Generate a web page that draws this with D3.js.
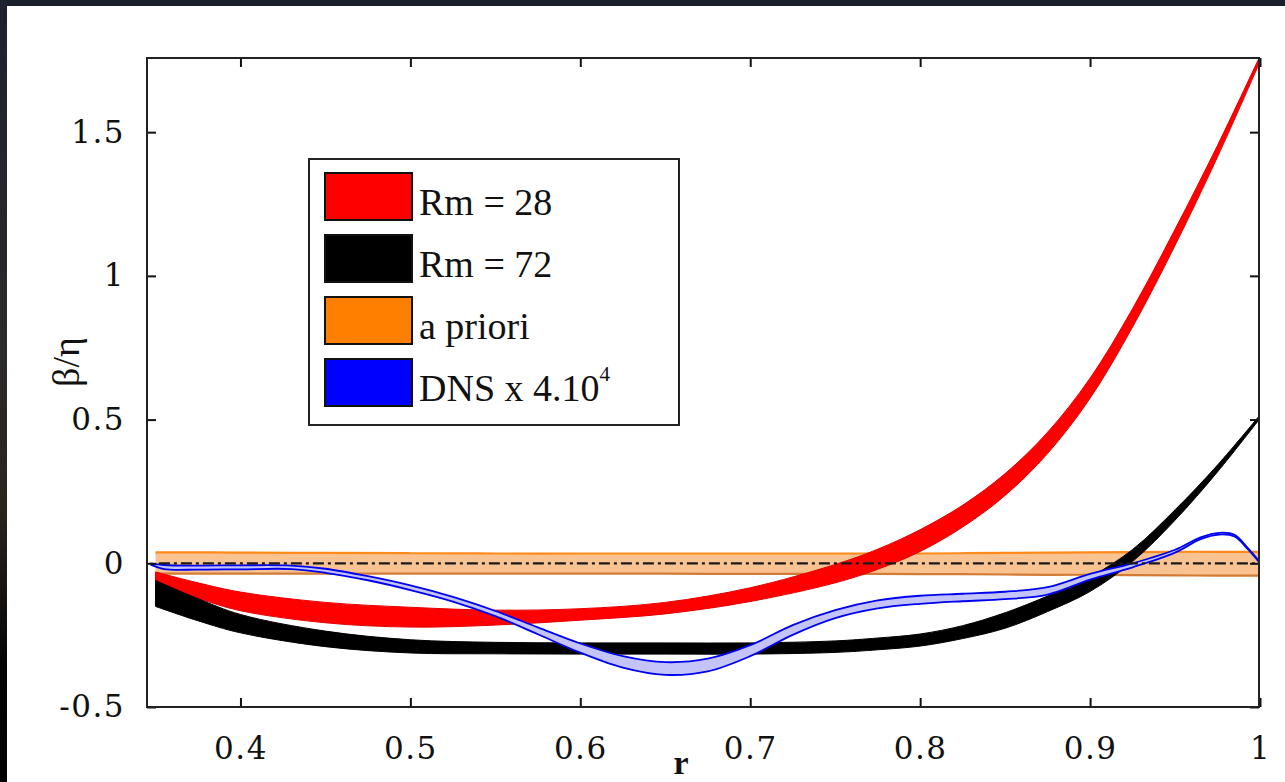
<!DOCTYPE html>
<html>
<head>
<meta charset="utf-8">
<script src="https://cdn.jsdelivr.net/npm/d3@7/dist/d3.min.js"></script>
<style>
  html, body { margin: 0; padding: 0; background: #ffffff; }
  svg { display: block; }
</style>
</head>
<body>
<svg id="chart" width="1285" height="782"></svg>
<script>
// ---------------- DATA ----------------
const rGrid = [0.35, 0.375, 0.4, 0.45, 0.5, 0.55, 0.6, 0.65, 0.7, 0.75, 0.775, 0.8, 0.825, 0.85, 0.875, 0.9, 0.925, 0.95, 0.975, 1.0];

const rm28Hi = [-0.03, -0.068, -0.1, -0.136, -0.153, -0.163, -0.158, -0.136, -0.085, -0.004, 0.049, 0.117, 0.202, 0.312, 0.456, 0.644, 0.886, 1.162, 1.454, 1.765];
const rm28Lo = [-0.07, -0.122, -0.165, -0.207, -0.222, -0.215, -0.198, -0.176, -0.133, -0.068, -0.021, 0.041, 0.126, 0.236, 0.382, 0.574, 0.822, 1.106, 1.414, 1.745];

const rm72Hi = [-0.06, -0.123, -0.178, -0.236, -0.266, -0.275, -0.277, -0.277, -0.277, -0.27, -0.26, -0.246, -0.217, -0.172, -0.114, -0.048, 0.048, 0.186, 0.342, 0.516];
const rm72Lo = [-0.15, -0.2, -0.242, -0.29, -0.312, -0.315, -0.316, -0.316, -0.316, -0.31, -0.301, -0.288, -0.262, -0.226, -0.168, -0.098, 0.006, 0.15, 0.318, 0.504];

const aprioriHi = [0.038, 0.038, 0.037, 0.036, 0.035, 0.034, 0.034, 0.034, 0.034, 0.034, 0.034, 0.034, 0.035, 0.036, 0.037, 0.038, 0.039, 0.04, 0.04, 0.04];
const aprioriLo = [-0.036, -0.036, -0.036, -0.036, -0.036, -0.036, -0.036, -0.036, -0.037, -0.037, -0.037, -0.038, -0.038, -0.039, -0.04, -0.04, -0.041, -0.042, -0.043, -0.043];

const rDNS = [0.347, 0.355, 0.375, 0.4, 0.43, 0.45, 0.475, 0.5, 0.525, 0.55, 0.575, 0.6, 0.625, 0.65, 0.675, 0.7, 0.725, 0.75, 0.775, 0.8, 0.825, 0.85, 0.875, 0.9, 0.925, 0.95, 0.965, 0.976, 0.985, 0.993, 1.0];
const dnsHi = [0.0, -0.006, -0.008, -0.007, -0.008, -0.019, -0.045, -0.077, -0.117, -0.166, -0.223, -0.279, -0.323, -0.344, -0.332, -0.285, -0.215, -0.163, -0.129, -0.113, -0.106, -0.099, -0.083, -0.037, 0.0, 0.047, 0.09, 0.106, 0.099, 0.052, 0.004];
const dnsLo = [-0.004, -0.02, -0.022, -0.021, -0.02, -0.033, -0.059, -0.093, -0.133, -0.184, -0.247, -0.311, -0.363, -0.388, -0.376, -0.323, -0.249, -0.191, -0.157, -0.141, -0.132, -0.125, -0.109, -0.057, -0.014, 0.037, 0.084, 0.1, 0.093, 0.048, 0.0];

const xTicks = [0.4, 0.5, 0.6, 0.7, 0.8, 0.9, 1.0];
const xTickLabels = ["0.4", "0.5", "0.6", "0.7", "0.8", "0.9", "1"];
const yTicks = [-0.5, 0, 0.5, 1, 1.5];
const yTickLabels = ["-0.5", "0", "0.5", "1", "1.5"];

const legendLabels = ["Rm = 28", "Rm = 72", "a priori", "DNS x 4.10"];
const legendColors = ["#ff0000", "#000000", "#ff8000", "#0000ff"];

// ---------------- LAYOUT ----------------
const svg = d3.select("#chart");
const W = 1285, H = 782;
const plot = { left: 147, top: 58, right: 1259, bottom: 707 };

// dark screenshot frame (top and left strips)
const defs = svg.append("defs");
const grad = defs.append("linearGradient").attr("id", "leftStrip")
  .attr("x1", 0).attr("y1", 0).attr("x2", 0).attr("y2", 1);
grad.append("stop").attr("offset", "0%").attr("stop-color", "#1d2130");
grad.append("stop").attr("offset", "45%").attr("stop-color", "#2c2a2a");
grad.append("stop").attr("offset", "65%").attr("stop-color", "#2a241e");
grad.append("stop").attr("offset", "85%").attr("stop-color", "#050505");
grad.append("stop").attr("offset", "100%").attr("stop-color", "#000000");
svg.append("rect").attr("x", 0).attr("y", 0).attr("width", W).attr("height", H).attr("fill", "#ffffff");
svg.append("rect").attr("x", 0).attr("y", 0).attr("width", W).attr("height", 6).attr("fill", "#1c202d");
svg.append("rect").attr("x", 0).attr("y", 0).attr("width", 7).attr("height", H).attr("fill", "url(#leftStrip)");

const x = d3.scaleLinear().domain([0.345, 1.0]).range([plot.left, plot.right + 1]);
const y = d3.scaleLinear().domain([-0.5, 1.758]).range([plot.bottom, plot.top]);

defs.append("clipPath").attr("id", "plotClip").append("rect")
  .attr("x", plot.left).attr("y", plot.top)
  .attr("width", plot.right - plot.left).attr("height", plot.bottom - plot.top);

const g = svg.append("g").attr("clip-path", "url(#plotClip)");

function band(rs, hi, lo) {
  return rs.map((r, i) => ({ r: r, hi: hi[i], lo: lo[i] }));
}
const curve = d3.curveCatmullRom.alpha(0.5);
const areaGen = d3.area().x(d => x(d.r)).y0(d => y(d.lo)).y1(d => y(d.hi)).curve(curve);
const hiLine = d3.line().x(d => x(d.r)).y(d => y(d.hi)).curve(curve);
const loLine = d3.line().x(d => x(d.r)).y(d => y(d.lo)).curve(curve);

// a priori band (orange)
const apData = band(rGrid, aprioriHi, aprioriLo);
g.append("path").attr("d", areaGen(apData)).attr("fill", "#f8c391").attr("stroke", "none");
g.append("path").attr("d", hiLine(apData)).attr("fill", "none").attr("stroke", "#ff8a1c").attr("stroke-width", 2.2);
g.append("path").attr("d", loLine(apData)).attr("fill", "none").attr("stroke", "#d27b35").attr("stroke-width", 2.2);

// Rm = 28 (red)
const redData = band(rGrid, rm28Hi, rm28Lo);
g.append("path").attr("d", areaGen(redData)).attr("fill", "#ff0000").attr("stroke", "#e60000").attr("stroke-width", 1);

// Rm = 72 (black)
const blackData = band(rGrid, rm72Hi, rm72Lo);
g.append("path").attr("d", areaGen(blackData)).attr("fill", "#000000").attr("stroke", "#000000").attr("stroke-width", 1);

// DNS (blue)
const dnsData = band(rDNS, dnsHi, dnsLo);
g.append("path").attr("d", areaGen(dnsData)).attr("fill", "#c4c4fb").attr("stroke", "none");
g.append("path").attr("d", hiLine(dnsData)).attr("fill", "none").attr("stroke", "#0000f0").attr("stroke-width", 1.8);
g.append("path").attr("d", loLine(dnsData)).attr("fill", "none").attr("stroke", "#0000f0").attr("stroke-width", 1.8);

// zero dash-dot line
g.append("line")
  .attr("x1", x(0.352)).attr("x2", x(1.0))
  .attr("y1", y(0)).attr("y2", y(0))
  .attr("stroke", "#1a1a1a").attr("stroke-width", 2.2)
  .attr("stroke-dasharray", "11,4,3,4");

// ---------------- AXES ----------------
const tickFont = "'DejaVu Serif', serif";
const xFmt = d => xTickLabels[xTicks.indexOf(d)];
const yFmt = d => yTickLabels[yTicks.indexOf(d)];

const axB = svg.append("g").attr("transform", `translate(0,${plot.bottom})`)
  .call(d3.axisBottom(x).tickValues(xTicks).tickFormat(xFmt).tickSize(-9).tickPadding(30));
const axT = svg.append("g").attr("transform", `translate(0,${plot.top})`)
  .call(d3.axisTop(x).tickValues(xTicks).tickFormat("").tickSize(-9));
const axL = svg.append("g").attr("transform", `translate(${plot.left},0)`)
  .call(d3.axisLeft(y).tickValues(yTicks).tickFormat(yFmt).tickSize(-9).tickPadding(22));
const axR = svg.append("g").attr("transform", `translate(${plot.right},0)`)
  .call(d3.axisRight(y).tickValues(yTicks).tickFormat("").tickSize(-9));

[axB, axT, axL, axR].forEach(a => {
  a.select(".domain").remove();
  a.selectAll(".tick line").attr("stroke", "#111").attr("stroke-width", 2);
  a.selectAll(".tick text")
    .attr("fill", "#111")
    .style("font-family", tickFont)
    .style("font-size", "31px")
    .style("letter-spacing", "1.5px");
});

// frame
svg.append("rect")
  .attr("x", plot.left).attr("y", plot.top)
  .attr("width", plot.right - plot.left).attr("height", plot.bottom - plot.top)
  .attr("fill", "none").attr("stroke", "#222").attr("stroke-width", 2);

// axis titles
svg.append("text")
  .attr("x", 681).attr("y", 774)
  .attr("text-anchor", "middle")
  .style("font-family", "'Liberation Serif', serif")
  .style("font-size", "34px")
  .style("font-weight", "bold")
  .attr("fill", "#111")
  .text("r");

svg.append("text")
  .attr("transform", "translate(79,362) rotate(-90)")
  .attr("text-anchor", "middle")
  .style("font-family", "'Liberation Serif', serif")
  .style("font-size", "38px")
  .attr("fill", "#111")
  .text("β/η");

// ---------------- LEGEND ----------------
const leg = svg.append("g");
leg.append("rect")
  .attr("x", 309).attr("y", 159).attr("width", 370).attr("height", 266)
  .attr("fill", "#ffffff").attr("stroke", "#222").attr("stroke-width", 2);

const rowY = d3.scaleLinear().domain([0, 3]).range([173, 359]);
legendLabels.forEach((lab, i) => {
  const y0 = rowY(i);
  leg.append("rect")
    .attr("x", 325).attr("y", y0).attr("width", 87).attr("height", 47)
    .attr("fill", legendColors[i]).attr("stroke", "#111").attr("stroke-width", 2);
  const t = leg.append("text")
    .attr("x", 419).attr("y", y0 + 42)
    .style("font-family", "'Liberation Serif', serif")
    .style("font-size", "38px")
    .attr("fill", "#111");
  t.append("tspan").text(lab);
  if (i === 3) {
    t.append("tspan").attr("dy", -20).style("font-size", "21px").text("4");
  }
});
</script>
</body>
</html>
